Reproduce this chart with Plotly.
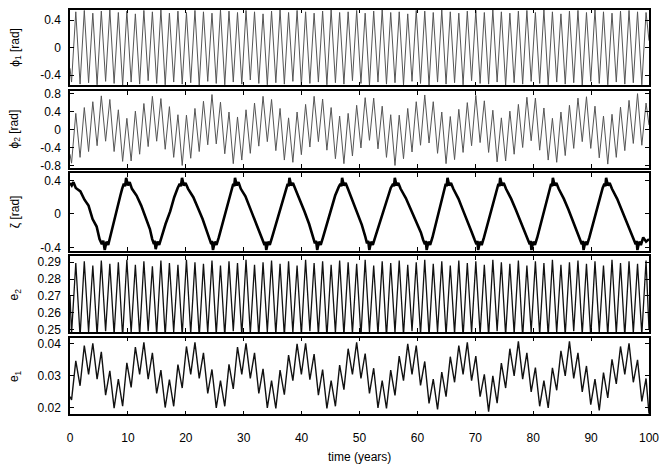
import plotly.graph_objects as go

# ---------------- data ----------------
# times (years) of the successive extrema of the fast oscillation
t_fast = [
    0, 0.27, 1.00, 1.74, 2.47, 3.21, 3.94, 4.68, 5.41, 6.15,
    6.88, 7.62, 8.35, 9.09, 9.82, 10.56, 11.29, 12.03, 12.76, 13.50,
    14.23, 14.97, 15.70, 16.44, 17.17, 17.91, 18.64, 19.38, 20.11, 20.85,
    21.58, 22.32, 23.05, 23.79, 24.52, 25.26, 25.99, 26.73, 27.46, 28.20,
    28.93, 29.67, 30.40, 31.14, 31.87, 32.61, 33.34, 34.08, 34.81, 35.55,
    36.28, 37.02, 37.75, 38.49, 39.22, 39.96, 40.69, 41.43, 42.16, 42.90,
    43.63, 44.37, 45.10, 45.84, 46.57, 47.31, 48.04, 48.78, 49.51, 50.25,
    50.98, 51.72, 52.45, 53.19, 53.92, 54.66, 55.39, 56.13, 56.86, 57.60,
    58.33, 59.07, 59.80, 60.54, 61.27, 62.01, 62.74, 63.48, 64.21, 64.95,
    65.68, 66.42, 67.15, 67.89, 68.62, 69.36, 70.09, 70.83, 71.56, 72.30,
    73.03, 73.77, 74.50, 75.24, 75.97, 76.71, 77.44, 78.18, 78.91, 79.65,
    80.38, 81.12, 81.85, 82.59, 83.32, 84.06, 84.79, 85.53, 86.26, 87.00,
    87.73, 88.47, 89.20, 89.94, 90.67, 91.41, 92.14, 92.88, 93.61, 94.35,
    95.08, 95.82, 96.55, 97.29, 98.02, 98.76, 99.49, 100,
]

phi1 = [
    -0.30, -0.50, 0.52, -0.53, 0.54, -0.51, 0.50, -0.54, 0.53, -0.49,
    0.55, -0.52, 0.51, -0.55, 0.53, -0.50, 0.49, -0.53, 0.54, -0.48,
    0.52, -0.52, 0.55, -0.54, 0.50, -0.50, 0.53, -0.53, 0.51, -0.51,
    0.54, -0.55, 0.52, -0.49, 0.50, -0.52, 0.55, -0.54, 0.53, -0.50,
    0.51, -0.53, 0.54, -0.47, 0.52, -0.52, 0.49, -0.54, 0.53, -0.51,
    0.55, -0.53, 0.51, -0.49, 0.54, -0.55, 0.52, -0.52, 0.50, -0.50,
    0.53, -0.54, 0.55, -0.51, 0.51, -0.53, 0.52, -0.48, 0.54, -0.52,
    0.50, -0.55, 0.53, -0.50, 0.55, -0.53, 0.51, -0.51, 0.52, -0.54,
    0.49, -0.49, 0.54, -0.52, 0.53, -0.55, 0.51, -0.50, 0.55, -0.53,
    0.52, -0.51, 0.50, -0.54, 0.53, -0.48, 0.54, -0.52, 0.51, -0.53,
    0.55, -0.50, 0.52, -0.55, 0.50, -0.51, 0.53, -0.53, 0.54, -0.49,
    0.51, -0.52, 0.55, -0.54, 0.52, -0.50, 0.49, -0.53, 0.53, -0.51,
    0.54, -0.55, 0.51, -0.49, 0.55, -0.52, 0.52, -0.54, 0.50, -0.50,
    0.53, -0.53, 0.54, -0.51, 0.52, -0.54, 0.51, 0.10,
]

phi2 = [
    -0.55, -0.75, 0.36, -0.62, 0.49, -0.49, 0.62, -0.36, 0.75, -0.26,
    0.67, -0.49, 0.44, -0.71, 0.25, -0.70, 0.41, -0.55, 0.58, -0.38,
    0.74, -0.26, 0.69, -0.44, 0.51, -0.62, 0.33, -0.80, 0.32, -0.64,
    0.47, -0.49, 0.63, -0.34, 0.78, -0.32, 0.61, -0.54, 0.39, -0.76,
    0.28, -0.68, 0.44, -0.53, 0.59, -0.37, 0.74, -0.27, 0.67, -0.47,
    0.47, -0.68, 0.26, -0.73, 0.39, -0.56, 0.56, -0.39, 0.74, -0.27,
    0.68, -0.46, 0.49, -0.65, 0.30, -0.76, 0.36, -0.59, 0.54, -0.41,
    0.71, -0.24, 0.70, -0.43, 0.52, -0.62, 0.33, -0.80, 0.32, -0.65,
    0.47, -0.50, 0.62, -0.35, 0.77, -0.30, 0.62, -0.53, 0.39, -0.76,
    0.29, -0.67, 0.45, -0.51, 0.60, -0.36, 0.76, -0.29, 0.64, -0.51,
    0.43, -0.72, 0.26, -0.70, 0.41, -0.55, 0.56, -0.40, 0.72, -0.25,
    0.70, -0.46, 0.48, -0.68, 0.25, -0.73, 0.39, -0.58, 0.54, -0.42,
    0.70, -0.27, 0.73, -0.42, 0.52, -0.63, 0.30, -0.77, 0.34, -0.62,
    0.50, -0.47, 0.65, -0.31, 0.80, -0.35, 0.59, 0.10,
]

e2 = [
    0.2700, 0.2475, 0.2895, 0.2460, 0.2905, 0.2485, 0.2880, 0.2465, 0.2910, 0.2490,
    0.2890, 0.2470, 0.2900, 0.2455, 0.2915, 0.2480, 0.2885, 0.2465, 0.2905, 0.2490,
    0.2875, 0.2470, 0.2910, 0.2460, 0.2895, 0.2485, 0.2885, 0.2465, 0.2915, 0.2475,
    0.2900, 0.2455, 0.2890, 0.2480, 0.2910, 0.2470, 0.2880, 0.2460, 0.2905, 0.2490,
    0.2895, 0.2465, 0.2915, 0.2475, 0.2885, 0.2455, 0.2900, 0.2485, 0.2910, 0.2470,
    0.2890, 0.2460, 0.2905, 0.2480, 0.2880, 0.2465, 0.2915, 0.2490, 0.2895, 0.2470,
    0.2905, 0.2455, 0.2885, 0.2480, 0.2910, 0.2465, 0.2900, 0.2475, 0.2890, 0.2460,
    0.2915, 0.2485, 0.2880, 0.2470, 0.2905, 0.2455, 0.2895, 0.2480, 0.2910, 0.2465,
    0.2885, 0.2490, 0.2900, 0.2470, 0.2915, 0.2460, 0.2890, 0.2485, 0.2905, 0.2465,
    0.2880, 0.2475, 0.2910, 0.2455, 0.2895, 0.2480, 0.2905, 0.2470, 0.2885, 0.2460,
    0.2915, 0.2490, 0.2900, 0.2465, 0.2890, 0.2475, 0.2910, 0.2455, 0.2880, 0.2485,
    0.2905, 0.2470, 0.2895, 0.2460, 0.2915, 0.2480, 0.2885, 0.2465, 0.2900, 0.2490,
    0.2910, 0.2470, 0.2890, 0.2455, 0.2905, 0.2485, 0.2880, 0.2465, 0.2915, 0.2475,
    0.2895, 0.2460, 0.2905, 0.2480, 0.2890, 0.2470, 0.2910, 0.2500,
]

e1 = [
    0.0235, 0.0225, 0.0347, 0.0269, 0.0395, 0.0305, 0.0402, 0.0290, 0.0375, 0.0240,
    0.0316, 0.0199, 0.0290, 0.0205, 0.0341, 0.0264, 0.0390, 0.0305, 0.0405, 0.0290,
    0.0372, 0.0245, 0.0318, 0.0201, 0.0288, 0.0205, 0.0335, 0.0262, 0.0392, 0.0305,
    0.0405, 0.0292, 0.0372, 0.0245, 0.0320, 0.0200, 0.0285, 0.0205, 0.0336, 0.0259,
    0.0390, 0.0305, 0.0402, 0.0292, 0.0372, 0.0245, 0.0322, 0.0200, 0.0285, 0.0198,
    0.0318, 0.0241, 0.0365, 0.0285, 0.0400, 0.0305, 0.0402, 0.0288, 0.0368, 0.0240,
    0.0320, 0.0198, 0.0285, 0.0205, 0.0334, 0.0257, 0.0385, 0.0305, 0.0405, 0.0292,
    0.0370, 0.0245, 0.0324, 0.0200, 0.0285, 0.0198, 0.0318, 0.0239, 0.0362, 0.0285,
    0.0400, 0.0305, 0.0395, 0.0270, 0.0345, 0.0214, 0.0290, 0.0195, 0.0312, 0.0235,
    0.0360, 0.0280, 0.0395, 0.0305, 0.0405, 0.0285, 0.0362, 0.0235, 0.0305, 0.0188,
    0.0300, 0.0215, 0.0340, 0.0262, 0.0385, 0.0300, 0.0408, 0.0290, 0.0372, 0.0250,
    0.0326, 0.0205, 0.0285, 0.0200, 0.0325, 0.0255, 0.0378, 0.0300, 0.0408, 0.0292,
    0.0372, 0.0250, 0.0331, 0.0210, 0.0290, 0.0192, 0.0310, 0.0231, 0.0352, 0.0275,
    0.0392, 0.0305, 0.0402, 0.0280, 0.0350, 0.0220, 0.0292, 0.0182,
]

zeta_t = [
    0.0, 0.3, 0.6, 1.0, 1.8, 2.5, 3.2, 3.9, 4.6, 5.1, 5.5, 5.75, 6.0, 6.3, 6.6, 6.9,
    7.5, 8.1, 8.7, 9.0, 9.3, 9.5, 9.7, 10.0, 10.3, 10.7, 11.5, 12.3, 13.1, 13.8, 14.2, 14.5, 14.6, 14.8, 15.1, 15.4, 15.8,
    16.5, 17.3, 18.0, 18.6, 18.95, 19.15, 19.35, 19.65, 19.95, 20.4, 21.3, 22.1, 22.9, 23.7, 24.1, 24.4, 24.5, 24.7, 25.0, 25.3, 25.7,
    26.3, 27.0, 27.6, 28.0, 28.2, 28.35, 28.5, 28.8, 29.1, 29.5, 30.3, 31.1, 31.9, 32.7, 33.3, 33.6, 33.75, 33.9, 34.2, 34.5, 34.9,
    35.6, 36.3, 37.0, 37.4, 37.6, 37.75, 37.9, 38.2, 38.5, 38.9, 39.7, 40.5, 41.3, 42.0, 42.3, 42.5, 42.7, 43.0, 43.3, 43.7,
    44.4, 45.1, 45.8, 46.4, 46.7, 46.85, 47.0, 47.3, 47.6, 48.0, 48.8, 49.6, 50.4, 51.0, 51.3, 51.5, 51.7, 52.0, 52.3, 52.7,
    53.4, 54.1, 54.8, 55.4, 55.8, 55.95, 56.1, 56.4, 56.7, 57.1, 58.0, 58.9, 59.8, 60.6, 61.0, 61.3, 61.45, 61.6, 61.9, 62.2, 62.6,
    63.2, 63.8, 64.4, 64.7, 64.9, 65.05, 65.2, 65.5, 65.8, 66.2, 67.1, 67.9, 68.7, 69.4, 69.9, 70.2, 70.35, 70.5, 70.8, 71.1, 71.5,
    72.1, 72.8, 73.4, 73.8, 74.0, 74.15, 74.3, 74.6, 74.9, 75.3, 76.2, 77.0, 77.8, 78.6, 79.1, 79.4, 79.55, 79.7, 80.0, 80.3, 80.7,
    81.3, 81.9, 82.5, 82.9, 83.1, 83.25, 83.4, 83.7, 84.0, 84.4, 85.3, 86.1, 86.9, 87.7, 88.1, 88.4, 88.55, 88.7, 89.0, 89.3, 89.7,
    90.3, 90.9, 91.6, 92.0, 92.3, 92.45, 92.6, 92.9, 93.2, 93.6, 94.5, 95.3, 96.1, 96.9, 97.4, 97.7, 97.85, 98.0, 98.3, 98.6, 99.0, 99.5, 100.0,
]
zeta = [
    0.37, 0.34, 0.38, 0.31, 0.27, 0.17, 0.10, -0.06, -0.15, -0.30, -0.36, -0.32, -0.43, -0.33, -0.37, -0.28,
    -0.10, 0.05, 0.22, 0.30, 0.36, 0.33, 0.43, 0.34, 0.38, 0.30, 0.22, 0.10, -0.06, -0.18, -0.30, -0.36, -0.32, -0.42, -0.33, -0.37, -0.28,
    -0.12, 0.03, 0.20, 0.31, 0.36, 0.33, 0.43, 0.34, 0.37, 0.30, 0.20, 0.07, -0.06, -0.22, -0.31, -0.36, -0.32, -0.43, -0.33, -0.37, -0.28,
    -0.13, 0.05, 0.21, 0.32, 0.36, 0.33, 0.43, 0.34, 0.38, 0.30, 0.21, 0.07, -0.07, -0.21, -0.31, -0.37, -0.33, -0.43, -0.33, -0.37, -0.28,
    -0.12, 0.05, 0.22, 0.31, 0.36, 0.33, 0.43, 0.34, 0.37, 0.30, 0.17, 0.03, -0.12, -0.27, -0.35, -0.32, -0.43, -0.33, -0.37, -0.28,
    -0.11, 0.06, 0.22, 0.32, 0.36, 0.33, 0.43, 0.34, 0.37, 0.30, 0.16, 0.02, -0.13, -0.27, -0.35, -0.32, -0.43, -0.33, -0.37, -0.28,
    -0.12, 0.04, 0.20, 0.31, 0.36, 0.33, 0.43, 0.34, 0.37, 0.30, 0.19, 0.05, -0.09, -0.22, -0.31, -0.36, -0.32, -0.43, -0.33, -0.37, -0.28,
    -0.11, 0.07, 0.24, 0.31, 0.36, 0.33, 0.43, 0.34, 0.37, 0.30, 0.18, 0.04, -0.09, -0.22, -0.31, -0.36, -0.32, -0.43, -0.33, -0.37, -0.28,
    -0.12, 0.06, 0.22, 0.31, 0.36, 0.33, 0.43, 0.34, 0.37, 0.30, 0.18, 0.05, -0.09, -0.22, -0.31, -0.36, -0.32, -0.43, -0.33, -0.37, -0.28,
    -0.12, 0.05, 0.21, 0.31, 0.36, 0.33, 0.43, 0.34, 0.37, 0.30, 0.18, 0.05, -0.09, -0.22, -0.31, -0.36, -0.32, -0.43, -0.33, -0.37, -0.28,
    -0.12, 0.05, 0.21, 0.31, 0.36, 0.33, 0.43, 0.34, 0.37, 0.30, 0.18, 0.05, -0.09, -0.22, -0.31, -0.36, -0.32, -0.43, -0.33, -0.37, -0.28, -0.33, -0.30,
]

x_tickvals = [0, 10, 20, 30, 40, 50, 60, 70, 80, 90, 100]
x_ticktext = ["0", "10", "20", "30", "40", "50", "60", "70", "80", "90", "100"]

y_labels = ["ϕ<sub>1</sub> [rad]", "ϕ<sub>2</sub> [rad]", "ζ [rad]", "e<sub>2</sub>", "e<sub>1</sub>"]
y_tickvals = [
    [-0.4, 0, 0.4],
    [-0.8, -0.4, 0, 0.4, 0.8],
    [-0.4, 0, 0.4],
    [0.25, 0.26, 0.27, 0.28, 0.29],
    [0.02, 0.03, 0.04],
]
y_ticktext = [
    ["-0.4", "0", "0.4"],
    ["-0.8", "-0.4", "0", "0.4", "0.8"],
    ["-0.4", "0", "0.4"],
    ["0.25", "0.26", "0.27", "0.28", "0.29"],
    ["0.02", "0.03", "0.04"],
]

# ---------------- styling / layout ----------------
FONT = "Liberation Sans, Arial, Helvetica, sans-serif"
W, H = 664, 470
ML, MR, MT, MB = 70, 13, 5, 55
PH = H - MT - MB  # plot height in px
LW = 1.5          # frame line width

# frame-line pixel positions (top, bottom) of each panel, y ranges, line styles
panel_px = [(5, 83), (87, 166), (170, 250), (254, 332), (336, 415)]
y_ranges = [[-0.55, 0.55], [-0.85, 0.86], [-0.44, 0.487], [0.2485, 0.2935], [0.018, 0.042]]
series = [(t_fast, phi1), (t_fast, phi2), (zeta_t, zeta), (t_fast, e2), (t_fast, e1)]
line_styles = [("#555555", 1.0), ("#555555", 1.0), ("#000000", 2.6), ("#111111", 1.3), ("#111111", 1.4)]


def dom(top, bot):
    # plotly draws frame lines just outside the domain, so shrink by half a line
    top += LW / 2
    bot -= LW / 2
    return [(H - MB - bot) / PH, (H - MB - top) / PH]


fig = go.Figure()
layout = dict(
    width=W, height=H, autosize=False,
    margin=dict(l=ML, r=MR, t=MT, b=MB),
    paper_bgcolor="white", plot_bgcolor="white",
    showlegend=False,
    font=dict(family=FONT, size=12, color="black"),
)
annotations = []
for i in range(5):
    n = "" if i == 0 else str(i + 1)
    xs, ys = series[i]
    col, wid = line_styles[i]
    fig.add_trace(go.Scatter(x=xs, y=ys, mode="lines",
                             line=dict(color=col, width=wid),
                             xaxis="x" + n, yaxis="y" + n, hoverinfo="skip"))
    d = dom(*panel_px[i])
    xa = dict(domain=[0, 1], anchor="y" + n, range=[0, 100],
              tickmode="array", tickvals=x_tickvals, ticktext=x_ticktext,
              ticks="inside", ticklen=4, tickwidth=1, tickcolor="black",
              showline=True, linecolor="black", linewidth=LW, mirror="ticks",
              showgrid=False, zeroline=False,
              showticklabels=(i == 4),
              tickfont=dict(family=FONT, size=12, color="black"))
    if i == 4:
        xa["ticklabelstandoff"] = 12
    if i > 0:
        xa["matches"] = "x"
    layout["xaxis" + n] = xa
    layout["yaxis" + n] = dict(domain=d, anchor="x" + n, range=y_ranges[i],
                               tickmode="array", tickvals=y_tickvals[i], ticktext=y_ticktext[i],
                               ticks="inside", ticklen=4, tickwidth=1, tickcolor="black",
                               showline=True, linecolor="black", linewidth=LW, mirror="ticks",
                               showgrid=False, zeroline=False,
                               ticklabelstandoff=5,
                               tickfont=dict(family=FONT, size=12, color="black"))
    yc = (d[0] + d[1]) / 2
    annotations.append(dict(text=y_labels[i], xref="paper", yref="paper",
                            x=(15 - ML) / (W - ML - MR), y=yc,
                            xanchor="center", yanchor="middle", textangle=-90,
                            showarrow=False, font=dict(family=FONT, size=12, color="black")))

annotations.append(dict(text="time (years)", xref="paper", yref="paper",
                        x=0.5, y=(H - MB - 457) / PH, xanchor="center", yanchor="middle",
                        showarrow=False, font=dict(family=FONT, size=12, color="black")))
layout["annotations"] = annotations
fig.update_layout(**layout)
fig.write_html("out.html",
               config={"displayModeBar": False},
               post_script="document.body.style.margin='0px';document.body.style.padding='0px';")
